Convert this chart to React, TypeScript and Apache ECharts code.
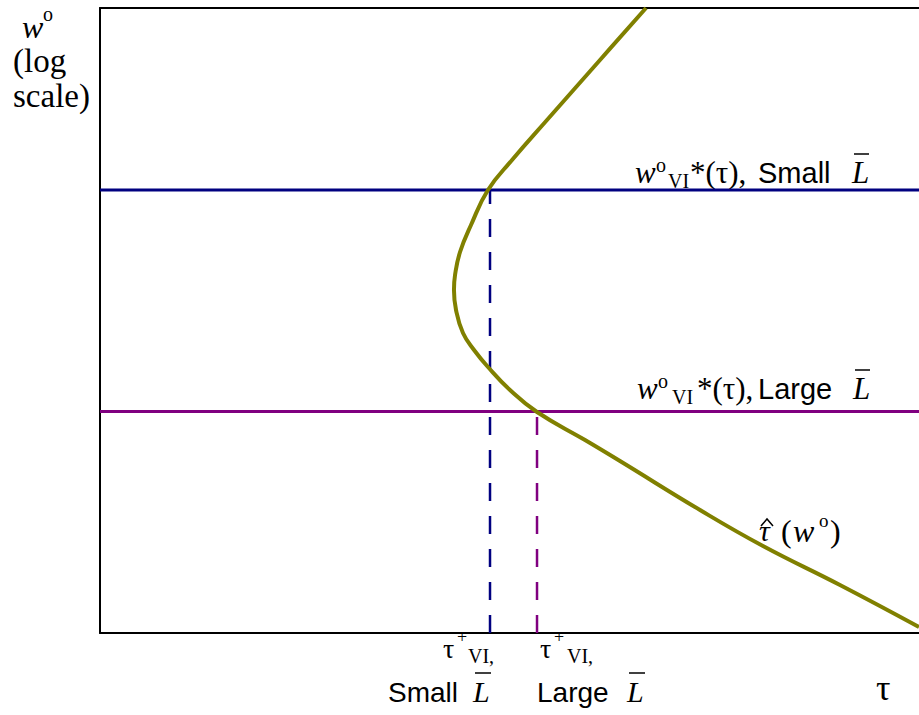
import { useEffect, useRef } from 'react';
import * as echarts from 'echarts';

// Curve tau-hat(w°): tau values (x) and w° values (y, log scale shown in relative units)
const tauHatTau = [66.67, 61.05, 54.58, 50.31, 47.37, 45.3, 43.96, 43.35, 43.22, 43.47, 44.32, 45.67, 47.37, 50.06, 53.36, 59.22, 63.49, 73.26, 80.95, 90.35, 100];
const tauHatW = [100, 91.68, 82.08, 75.68, 70.88, 65.28, 60.96, 57.28, 54.88, 51.68, 48.0, 45.28, 42.56, 38.88, 35.36, 30.88, 27.52, 19.68, 13.92, 7.68, 0.96];

// Horizontal w°VI*(tau) levels
const wLevels = [70.88, 35.44]; // Small L, Large L
// tau+VI thresholds
const tauThresholds = [47.62, 53.36]; // Small L, Large L
const levelColors = ['#000080', '#800080'];

const SERIF = 'Liberation Serif, Times New Roman, serif';
const SANS = 'Liberation Sans, Arial, sans-serif';

function txt(text: string, x: number, base: number, size: number, family: string, italic = false) {
  return {
    type: 'text',
    x,
    y: base - 0.34 * size,
    silent: true,
    style: {
      text,
      x: 0,
      y: 0,
      fontFamily: family,
      fontSize: size,
      fontStyle: italic ? 'italic' : 'normal',
      fontWeight: 'normal',
      fill: '#000',
      align: 'left',
      verticalAlign: 'middle',
      textAlign: 'left',
      textVerticalAlign: 'middle',
    },
  };
}

function bar(x1: number, x2: number, y: number) {
  return {
    type: 'line',
    silent: true,
    shape: { x1, y1: y, x2, y2: y },
    style: { stroke: '#000', lineWidth: 1.5 },
  };
}

export default function App() {
  const ref = useRef<HTMLDivElement>(null);
  useEffect(() => {
    if (!ref.current) return;
    const chart = echarts.init(ref.current, null, { renderer: 'svg' });
    const curve = tauHatTau.map((t, i) => [t, tauHatW[i]]);
    const axisLine = { show: true, onZero: false, lineStyle: { color: '#000', width: 2 } };
    chart.setOption({
      animation: false,
      backgroundColor: '#fff',
      grid: { left: 100, top: 8, right: 0, bottom: 82 },
      xAxis: [
        { type: 'value', min: 0, max: 100, position: 'bottom', axisLine, axisTick: { show: false }, axisLabel: { show: false }, splitLine: { show: false } },
        { type: 'value', min: 0, max: 100, position: 'top', axisLine, axisTick: { show: false }, axisLabel: { show: false }, splitLine: { show: false } },
      ],
      yAxis: { type: 'value', min: 0, max: 100, axisLine, axisTick: { show: false }, axisLabel: { show: false }, splitLine: { show: false } },
      series: [
        ...wLevels.map((w, i) => ({
          type: 'line',
          silent: true,
          symbol: 'none',
          data: [[0, w], [100, w]],
          lineStyle: { color: levelColors[i], width: 3 },
        })),
        ...tauThresholds.map((t, i) => ({
          type: 'line',
          silent: true,
          symbol: 'none',
          data: [[t, 0], [t, wLevels[i]]],
          lineStyle: { color: levelColors[i], width: 2.5, type: [18, 15] },
        })),
        {
          type: 'line',
          silent: true,
          symbol: 'none',
          smooth: 0.45,
          data: curve,
          lineStyle: { color: '#808000', width: 4 },
          z: 5,
        },
      ],
      graphic: [
        // y-axis title
        txt('w', 22, 38, 32, SERIF, true),
        txt('o', 43, 21, 20, SERIF),
        txt('(log', 13, 72, 33, SERIF),
        txt('scale)', 13, 107, 33, SERIF),
        // Small L level label
        txt('w', 635, 183, 31, SERIF, true),
        txt('o', 656, 172, 20, SERIF),
        txt('VI', 668, 188, 20, SERIF),
        txt('*(τ),', 690, 183, 31, SERIF),
        txt('Small', 758, 183, 29, SANS),
        txt('L', 852, 183, 31, SERIF, true),
        bar(854, 869, 154),
        // Large L level label
        txt('w', 637, 399, 31, SERIF, true),
        txt('o', 658, 388, 20, SERIF),
        txt('VI', 672, 404, 20, SERIF),
        txt('*(τ),', 697, 399, 31, SERIF),
        txt('Large', 758, 399, 29, SANS),
        txt('L', 853, 399, 31, SERIF, true),
        bar(855, 870, 370),
        // bottom threshold labels
        txt('τ', 443, 658, 28, SERIF),
        txt('+', 457, 643, 18, SERIF),
        txt('VI,', 468, 663, 20, SERIF),
        txt('Small', 388, 702, 28, SANS),
        txt('L', 473, 702, 30, SERIF, true),
        bar(475, 491, 673),
        txt('τ', 540, 658, 28, SERIF),
        txt('+', 554, 643, 18, SERIF),
        txt('VI,', 567, 663, 20, SERIF),
        txt('Large', 537, 702, 28, SANS),
        txt('L', 627, 702, 30, SERIF, true),
        bar(629, 645, 673),
        // x axis name
        txt('τ', 876, 700, 36, SERIF),
        // curve label
        txt('τ', 759, 541, 30, SERIF, true),
        {
          type: 'polyline',
          silent: true,
          shape: { points: [[761, 526], [767, 519], [773, 526]] },
          style: { stroke: '#000', lineWidth: 1.5, fill: 'none' },
        },
        txt('(', 781, 542, 32, SERIF),
        txt('w', 793, 542, 32, SERIF, true),
        txt('o', 819, 527, 19, SERIF),
        txt(')', 830, 542, 32, SERIF),
      ],
    });
    return () => chart.dispose();
  }, []);
  return <div ref={ref} style={{ position: 'absolute', left: 0, top: 0, width: 919, height: 715 }} />;
}
